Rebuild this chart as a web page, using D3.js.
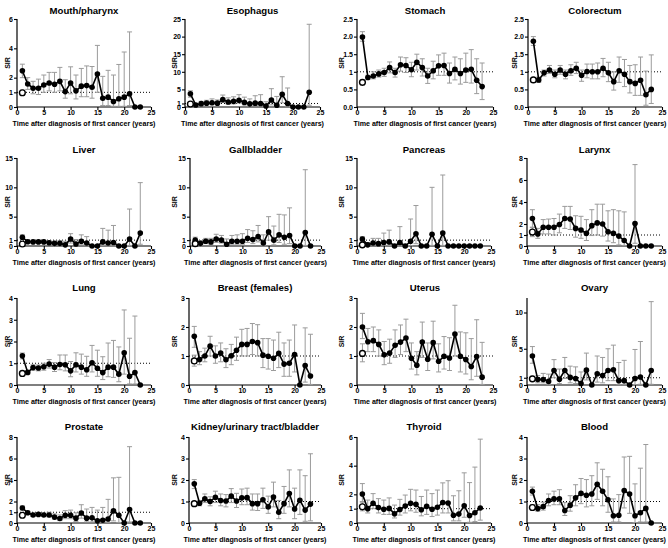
<!DOCTYPE html>
<html>
<head>
<meta charset="utf-8">
<script src="https://cdn.jsdelivr.net/npm/d3@7"></script>
<style>
html,body{margin:0;padding:0;background:#fff;}
svg{display:block;}
text{font-family:"Liberation Sans",Arial,sans-serif;font-weight:bold;fill:#000;}
</style>
</head>
<body>
<svg id="chart" width="668" height="548"></svg>
<script>
// ---------------- DATA ----------------
const years = [1,2,3,4,5,6,7,8,9,10,11,12,13,14,15,16,17,18,19,20,21,22,23];
const xTicks = [0,5,10,15,20,25];
const xTitle = "Time after diagnosis of first cancer (years)";
const yTitle = "SIR";
const N = null;

// Mouth/pharynx
const mouthSIR  = [2.47,1.57,1.28,1.28,1.5,1.64,1.55,1.75,1.05,1.64,1.1,1.42,1.46,1.35,2.25,0.6,0.67,0.38,0.56,0.67,0.9,0,0];
const mouthLow  = [2.0,1.2,0.9,0.85,1.0,1.1,1.0,1.1,0.6,0.9,0.55,0.7,0.7,0.6,1.0,0.1,0.1,0.05,0.05,0.05,0.1,N,N];
const mouthHigh = [2.92,2.0,1.75,1.9,2.18,2.36,2.36,2.7,1.86,2.74,2.18,2.63,2.8,2.76,4.2,2.09,2.5,2.18,2.9,3.75,5.12,N,N];
const mouthFirst = [0.97,0.8,1.15];
const mouthTicks = [0,1,2,4,6];

// Esophagus
const esoSIR  = [3.75,0.55,0.95,1.1,1.2,1.1,2.1,1.4,1.6,1.9,1.3,0.9,1.1,1.0,0.3,2.0,0.5,3.6,1.0,0,0,0,4.2];
const esoLow  = [2.8,0.3,0.5,0.6,0.7,0.6,1.3,0.8,0.9,1.1,0.6,0.3,0.4,0.3,0.05,0.6,0.05,1.2,0.1,N,N,N,0.5];
const esoHigh = [4.6,0.9,1.6,1.9,2.3,2.0,3.4,2.6,2.9,3.5,2.8,2.3,3.2,3.5,1.5,5.2,3.0,8.6,5.4,N,N,N,23.5];
const esoFirst = [0.85,0.6,1.1];
const esoTicks = [0,1,5,10,15,20,25];

// Stomach
const stomSIR  = [1.99,0.84,0.88,0.94,0.98,1.12,0.98,1.2,1.18,1.06,1.27,1.12,0.88,1.03,1.17,1.18,0.95,1.07,0.95,1.05,1.07,0.76,0.58];
const stomLow  = [1.87,0.78,0.8,0.85,0.87,0.97,0.85,1.02,0.98,0.86,1.05,0.88,0.67,0.8,0.9,0.9,0.68,0.77,0.65,0.7,0.68,0.38,0.21];
const stomHigh = [2.14,0.9,1.0,1.05,1.1,1.28,1.1,1.42,1.4,1.27,1.5,1.37,1.1,1.3,1.48,1.53,1.25,1.42,1.37,1.53,1.63,1.37,1.25];
const stomFirst = [0.7,0.62,0.77];
const stomTicks = [0,0.5,1,1.5,2,2.5];

// Colorectum
const colSIR  = [1.87,0.77,0.97,1.05,0.93,1.05,0.93,1.03,1.1,0.9,1.01,1.0,1.0,1.1,0.97,0.72,1.03,0.93,0.72,0.67,0.76,0.35,0.5];
const colLow  = [1.75,0.7,0.88,0.95,0.83,0.93,0.8,0.9,0.95,0.73,0.83,0.8,0.8,0.86,0.72,0.48,0.7,0.58,0.4,0.33,0.33,0.05,0.1];
const colHigh = [2.0,0.85,1.05,1.18,1.05,1.18,1.05,1.2,1.27,1.05,1.22,1.22,1.25,1.38,1.27,1.0,1.42,1.35,1.18,1.2,1.42,1.02,1.48];
const colFirst = [0.77,0.72,0.83];
const colTicks = [0,0.5,1,1.5,2,2.5];

// Liver
const livSIR  = [1.5,0.72,0.7,0.7,0.7,0.55,0.45,0.45,0.2,1.2,0.35,0.8,0.5,0,0,0.7,0.5,0.6,0,0,1.2,0,2.2];
const livLow  = [1.1,0.5,0.45,0.45,0.45,0.3,0.2,0.2,0.02,0.5,0.05,0.2,0.1,N,N,0.1,0.05,0.05,N,N,0.1,N,0.3];
const livHigh = [1.9,1.0,1.0,1.0,1.0,0.9,0.8,0.9,0.8,2.1,1.1,1.9,1.6,N,N,3.0,2.7,3.5,N,N,6.3,N,10.8];
const livFirst = [0.34,0.2,0.5];
const livTicks = [0,1,5,10,15];

// Gallbladder
const galSIR  = [1.0,0.45,0.8,0.7,1.2,1.0,0.3,0.8,0.8,0.8,1.3,1.1,1.6,0.5,2.4,1.0,1.9,1.5,1.8,0,0,2.3,0];
const galLow  = [0.6,0.15,0.4,0.3,0.6,0.5,0.05,0.3,0.3,0.3,0.6,0.4,0.7,0.05,1.0,0.2,0.6,0.3,0.4,N,N,0.1,N];
const galHigh = [1.5,0.9,1.3,1.3,2.0,1.8,1.2,1.8,1.9,2.1,2.8,2.6,3.5,1.9,5.0,3.4,5.4,5.3,6.5,N,N,13.0,N];
const galFirst = [0.4,0.2,0.7];
const galTicks = [0,1,5,10,15];

// Pancreas
const panSIR  = [1.2,0.2,0.5,0.4,0.6,0.7,0,0.6,0,0.8,2.1,0,0,2.0,0,2.2,0,0,0,0,0,0,0];
const panLow  = [0.8,0.02,0.1,0.05,0.1,0.1,N,0.05,N,0.05,0.4,N,N,0.1,N,0.1,N,N,N,N,N,N,N];
const panHigh = [1.6,0.6,1.3,1.3,2.2,2.7,N,3.3,N,4.6,6.9,N,N,10.0,N,12.1,N,N,N,N,N,N,N];
const panFirst = [0.2,0.05,0.4];
const panTicks = [0,1,5,10,15];

// Larynx
const larSIR  = [2.5,1.1,1.7,1.7,1.7,1.95,2.5,2.45,1.6,1.45,1.15,1.85,2.1,2.0,1.3,1.15,0.9,0.5,0,2.05,0,0,0];
const larLow  = [1.7,0.7,1.1,1.1,1.0,1.2,1.6,1.5,0.8,0.7,0.5,0.95,1.0,0.9,0.45,0.3,0.1,0.05,N,0.25,N,N,N];
const larHigh = [3.3,1.6,2.4,2.45,2.5,2.9,3.6,3.6,2.75,2.7,2.4,3.3,3.8,3.8,3.2,3.3,3.2,3.1,N,7.4,N,N,N];
const larFirst = [1.27,0.85,1.7];
const larTicks = [0,1,2,4,6,8];

// Lung
const lungSIR  = [1.34,0.58,0.8,0.78,0.84,0.96,0.82,0.94,0.93,0.65,0.93,0.82,0.7,1.02,0.77,0.57,0.82,0.82,0.5,1.48,0.4,0.57,0];
const lungLow  = [1.2,0.5,0.68,0.65,0.68,0.78,0.62,0.7,0.65,0.38,0.6,0.5,0.4,0.6,0.4,0.25,0.38,0.35,0.15,0.5,0.05,0.05,N];
const lungHigh = [1.47,0.66,0.93,0.92,1.0,1.17,1.03,1.38,1.38,1.08,1.48,1.42,1.32,1.82,1.6,1.3,1.93,2.05,1.75,3.45,2.15,3.17,N];
const lungFirst = [0.53,0.48,0.6];
const lungTicks = [0,1,2,3,4];

// Breast (females)
const brSIR  = [1.68,0.88,1.0,1.34,1.0,1.1,0.87,1.01,1.2,1.4,1.4,1.5,1.46,1.03,0.99,0.92,1.09,0.72,0.75,1.05,0,0.67,0.31];
const brLow  = [1.3,0.7,0.8,1.0,0.75,0.8,0.6,0.7,0.85,1.0,1.0,1.05,1.0,0.6,0.55,0.5,0.6,0.3,0.3,0.45,N,0.1,0.02];
const brHigh = [2.02,1.15,1.27,1.68,1.35,1.45,1.25,1.4,1.65,1.92,1.95,2.12,2.08,1.6,1.6,1.55,1.82,1.45,1.55,2.07,N,1.97,1.75];
const brFirst = [0.83,0.65,1.03];
const brTicks = [0,1,2,3];

// Uterus
const utSIR  = [2.0,1.49,1.53,1.4,1.04,1.1,1.37,1.48,1.62,0.92,0.68,1.48,0.89,1.46,0.82,0.99,0.93,1.76,0.99,0.88,0.64,0.98,0.27];
const utLow  = [1.6,1.15,1.15,1.0,0.7,0.75,0.95,1.05,1.15,0.55,0.35,0.95,0.5,0.9,0.45,0.55,0.5,1.0,0.45,0.38,0.18,0.3,0.02];
const utHigh = [2.47,1.95,2.0,1.9,1.5,1.58,1.9,2.07,2.27,1.45,1.15,2.17,1.45,2.2,1.42,1.67,1.63,2.75,1.83,1.8,1.6,2.25,1.47];
const utFirst = [1.09,0.8,1.42];
const utTicks = [0,1,2,3];

// Ovary
const ovSIR  = [4.0,0.75,0.75,0.5,2.0,0.8,2.0,1.05,0.9,0.2,2.05,0,1.55,1.3,2.0,2.1,0.6,0.6,0,0.9,1.1,0,2.0];
const ovLow  = [3.0,0.3,0.3,0.1,1.0,0.2,0.9,0.3,0.2,0.02,0.7,N,0.4,0.3,0.6,0.6,0.05,0.05,N,0.05,0.1,N,0.1];
const ovHigh = [5.3,1.3,1.6,1.5,3.5,2.2,3.8,2.6,2.5,1.8,4.4,N,4.0,3.8,5.0,5.5,3.1,3.4,N,4.9,6.0,N,11.5];
const ovFirst = [0.85,0.6,1.2];
const ovTicks = [0,1,5,10];

// Prostate
const proSIR  = [1.4,0.95,0.75,0.8,0.75,0.75,0.55,0.42,0.72,0.72,0.45,0.93,0.45,0.48,0.2,0.25,0.37,1.13,0.72,0,1.25,0,0];
const proLow  = [1.2,0.8,0.6,0.65,0.6,0.55,0.35,0.22,0.4,0.4,0.15,0.45,0.1,0.1,0.02,0.03,0.05,0.2,0.05,N,0.1,N,N];
const proHigh = [1.6,1.1,0.9,0.95,0.92,1.0,0.85,0.75,1.15,1.2,0.95,1.7,1.3,1.45,1.2,1.45,2.2,4.2,4.25,N,7.1,N,N];
const proFirst = [0.72,0.6,0.85];
const proTicks = [0,1,2,4,6,8];

// Kidney/urinary tract/bladder
const kidSIR  = [1.82,0.92,1.13,1.0,1.2,1.05,1.02,1.25,1.02,1.17,1.18,0.9,0.9,1.08,0.75,1.21,0.5,0.9,1.37,0.65,1.06,0.6,0.88];
const kidLow  = [1.6,0.8,0.95,0.8,0.95,0.8,0.75,0.95,0.72,0.85,0.85,0.6,0.58,0.68,0.45,0.75,0.2,0.45,0.75,0.2,0.4,0.08,0.1];
const kidHigh = [2.02,1.05,1.35,1.22,1.48,1.35,1.32,1.6,1.38,1.58,1.62,1.35,1.35,1.62,1.25,1.9,1.05,1.7,2.47,1.62,2.47,2.2,3.22];
const kidFirst = [0.9,0.8,1.0];
const kidTicks = [0,1,2,3,4];

// Thyroid
const thySIR  = [2.02,1.0,1.38,1.07,0.96,1.02,0.65,0.94,1.18,1.38,1.3,0.92,1.16,0.96,1.1,1.43,1.4,0.54,0.62,1.2,0.52,0.72,1.05];
const thyLow  = [1.5,0.7,1.0,0.7,0.6,0.6,0.35,0.55,0.7,0.85,0.75,0.5,0.6,0.45,0.55,0.7,0.7,0.15,0.15,0.4,0.05,0.1,0.2];
const thyHigh = [2.75,1.6,2.05,1.7,1.6,1.75,1.25,1.65,1.95,2.35,2.3,1.85,2.3,2.05,2.3,2.8,2.95,1.9,2.25,3.5,2.82,3.9,5.85];
const thyFirst = [1.13,0.85,1.45];
const thyTicks = [0,1,2,4,6];

// Blood
const bloSIR  = [1.48,0.67,0.76,1.05,1.12,1.13,0.58,0.83,1.17,1.38,1.29,1.35,1.8,1.48,1.08,0.34,0.36,1.51,1.35,0.34,0.48,0.68,0];
const bloLow  = [1.3,0.55,0.6,0.8,0.85,0.85,0.35,0.55,0.8,0.9,0.75,0.8,1.1,0.8,0.5,0.05,0.05,0.7,0.45,0.02,0.05,0.05,N];
const bloHigh = [1.67,0.85,0.97,1.35,1.48,1.55,0.95,1.27,1.78,2.07,2.02,2.2,2.8,2.5,2.15,1.12,1.32,3.07,3.1,1.82,2.55,3.65,N];
const bloFirst = [0.72,0.6,0.85];
const bloTicks = [0,1,2,3,4];

// ---------------- PANELS ----------------
const oneDec = d => d===1 ? "1" : d3.format(".1f")(d);
const plain = d => d;
const panels = [
  {title:"Mouth/pharynx", sir:mouthSIR, lo:mouthLow, hi:mouthHigh, first:mouthFirst, ticks:mouthTicks, max:6, fmt:plain},
  {title:"Esophagus", sir:esoSIR, lo:esoLow, hi:esoHigh, first:esoFirst, ticks:esoTicks, max:25, fmt:plain},
  {title:"Stomach", sir:stomSIR, lo:stomLow, hi:stomHigh, first:stomFirst, ticks:stomTicks, max:2.5, fmt:oneDec},
  {title:"Colorectum", sir:colSIR, lo:colLow, hi:colHigh, first:colFirst, ticks:colTicks, max:2.5, fmt:oneDec},
  {title:"Liver", sir:livSIR, lo:livLow, hi:livHigh, first:livFirst, ticks:livTicks, max:15, fmt:plain},
  {title:"Gallbladder", sir:galSIR, lo:galLow, hi:galHigh, first:galFirst, ticks:galTicks, max:15, fmt:plain},
  {title:"Pancreas", sir:panSIR, lo:panLow, hi:panHigh, first:panFirst, ticks:panTicks, max:15, fmt:plain},
  {title:"Larynx", sir:larSIR, lo:larLow, hi:larHigh, first:larFirst, ticks:larTicks, max:8, fmt:plain},
  {title:"Lung", sir:lungSIR, lo:lungLow, hi:lungHigh, first:lungFirst, ticks:lungTicks, max:4, fmt:plain},
  {title:"Breast (females)", sir:brSIR, lo:brLow, hi:brHigh, first:brFirst, ticks:brTicks, max:3, fmt:plain},
  {title:"Uterus", sir:utSIR, lo:utLow, hi:utHigh, first:utFirst, ticks:utTicks, max:3, fmt:plain},
  {title:"Ovary", sir:ovSIR, lo:ovLow, hi:ovHigh, first:ovFirst, ticks:ovTicks, max:12, fmt:plain},
  {title:"Prostate", sir:proSIR, lo:proLow, hi:proHigh, first:proFirst, ticks:proTicks, max:8, fmt:plain},
  {title:"Kidney/urinary tract/bladder", sir:kidSIR, lo:kidLow, hi:kidHigh, first:kidFirst, ticks:kidTicks, max:4, fmt:plain},
  {title:"Thyroid", sir:thySIR, lo:thyLow, hi:thyHigh, first:thyFirst, ticks:thyTicks, max:6, fmt:plain},
  {title:"Blood", sir:bloSIR, lo:bloLow, hi:bloHigh, first:bloFirst, ticks:bloTicks, max:4, fmt:plain}
];

// ---------------- LAYOUT ----------------
const rowLayout = [
  {titleY:10, top:19, bottom:107},
  {titleY:149, top:158, bottom:246},
  {titleY:287, top:298, bottom:385},
  {titleY:426, top:437, bottom:523}
];
// per-panel plot left / right (x=0 and x=25)
const plotX = [
  [17,151],[185,320],[357,493],[528,662],
  [17,151],[190,321],[357,491],[527,662],
  [17,151],[189,321],[357,493],[527,662],
  [17,151],[189,321],[357,491],[527,662]
];
const sirX = [7,174,341,514];

const svg = d3.select("#chart");
const GRAY = "#9b9b9b";

panels.forEach((p, i) => {
  const row = Math.floor(i/4), col = i%4;
  const L = rowLayout[row];
  const [xl, xr] = plotX[i];
  const x = d3.scaleLinear().domain([0,25]).range([xl, xr]);
  const y = d3.scaleLinear().domain([0,p.max]).range([L.bottom, L.top]);
  const g = svg.append("g");

  // title
  g.append("text").attr("x",(xl+xr)/2).attr("y",L.titleY)
    .attr("text-anchor","middle").attr("dominant-baseline","central")
    .style("font-size","9.6px").text(p.title);

  // axes
  const xa = g.append("g").attr("transform",`translate(0,${L.bottom})`)
    .call(d3.axisBottom(x).tickValues(xTicks).tickSize(3).tickPadding(0.5).tickFormat(plain));
  const ya = g.append("g").attr("transform",`translate(${xl},0)`)
    .call(d3.axisLeft(y).tickValues(p.ticks).tickSize(3).tickPadding(1).tickFormat(p.fmt));
  [xa,ya].forEach(a=>{
    a.select(".domain").attr("stroke","#000").attr("stroke-width",1.2);
    a.selectAll(".tick line").attr("stroke","#000").attr("stroke-width",1.1);
    a.selectAll(".tick text").style("font-size","7px").style("font-family","'Liberation Sans',Arial,sans-serif").style("font-weight","bold").attr("fill","#000");
  });
  xa.select(".domain").attr("d",`M${xl},0H${xr}`);
  ya.select(".domain").attr("d",`M0,${L.bottom}V${L.top}`);

  // axis titles
  g.append("text").attr("x",(xl+xr)/2).attr("y",L.bottom+16.5)
    .attr("text-anchor","middle").attr("dominant-baseline","central")
    .style("font-size","7.1px").text(xTitle);
  g.append("text").attr("transform",`translate(${sirX[col]},${(L.top+L.bottom)/2}) rotate(-90)`)
    .attr("text-anchor","middle").attr("dominant-baseline","central")
    .style("font-size","7px").text(yTitle);

  // reference line at SIR = 1
  g.append("line").attr("x1",x(0)).attr("x2",x(25)).attr("y1",y(1)).attr("y2",y(1))
    .attr("stroke","#000").attr("stroke-width",1).attr("stroke-dasharray","1,2");

  // error bars
  const rows = years.map((yr,k)=>({yr, v:p.sir[k], lo:p.lo[k], hi:p.hi[k]}));
  const eb = rows.filter(d=>d.lo!==null && d.hi!==null);
  const ebOpen = [{yr:1, lo:p.first[1], hi:p.first[2]}];
  const allEb = eb.concat(ebOpen);
  const eg = g.append("g").attr("stroke",GRAY).attr("stroke-width",1).attr("fill","none");
  eg.selectAll("line.v").data(allEb).join("line").attr("class","v")
    .attr("x1",d=>x(d.yr)).attr("x2",d=>x(d.yr)).attr("y1",d=>y(d.lo)).attr("y2",d=>y(d.hi));
  eg.selectAll("line.ct").data(allEb).join("line").attr("class","ct")
    .attr("x1",d=>x(d.yr)-2.5).attr("x2",d=>x(d.yr)+2.5).attr("y1",d=>y(d.hi)).attr("y2",d=>y(d.hi));
  eg.selectAll("line.cb").data(allEb).join("line").attr("class","cb")
    .attr("x1",d=>x(d.yr)-2.5).attr("x2",d=>x(d.yr)+2.5).attr("y1",d=>y(d.lo)).attr("y2",d=>y(d.lo));

  // line
  g.append("path").datum(rows)
    .attr("fill","none").attr("stroke","#000").attr("stroke-width",1.6)
    .attr("d", d3.line().x(d=>x(d.yr)).y(d=>y(d.v)));
  // points
  g.selectAll("circle.f").data(rows).join("circle").attr("class","f")
    .attr("cx",d=>x(d.yr)).attr("cy",d=>y(d.v)).attr("r",2.8).attr("fill","#000");
  // open circle (first year)
  g.append("circle").attr("cx",x(1)).attr("cy",y(p.first[0])).attr("r",2.9)
    .attr("fill","#fff").attr("stroke","#000").attr("stroke-width",1.4);
});
</script>
</body>
</html>
